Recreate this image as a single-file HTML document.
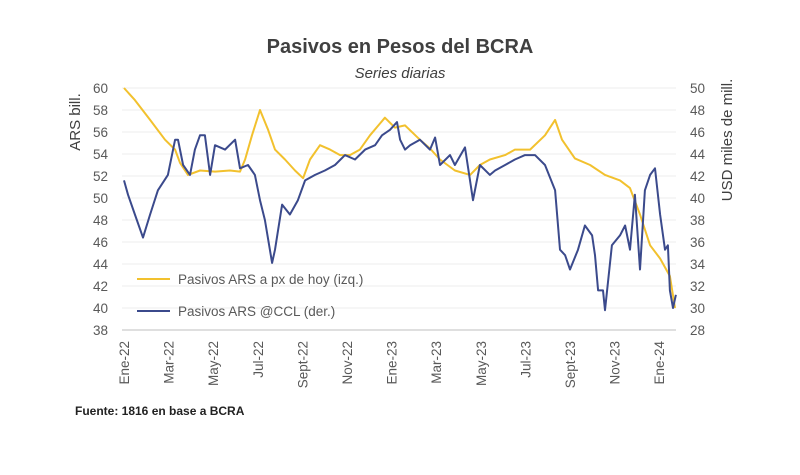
<!DOCTYPE html>
<html><head><meta charset="utf-8"><style>
body{margin:0;background:#fff;}
svg{display:block;font-family:"Liberation Sans",sans-serif;}
</style></head><body>
<svg width="800" height="475" viewBox="0 0 800 475">
<text x="400" y="53" text-anchor="middle" font-size="20" font-weight="bold" fill="#404040">Pasivos en Pesos del BCRA</text>
<text x="400" y="78" text-anchor="middle" font-size="15" font-style="italic" fill="#404040">Series diarias</text>
<text transform="translate(80,122) rotate(-90)" text-anchor="middle" font-size="15" fill="#404040">ARS bill.</text>
<text transform="translate(732,140) rotate(-90)" text-anchor="middle" font-size="15" fill="#404040">USD miles de mill.</text>
<g id="grid"></g><g id="lt"></g><g id="rt"></g><g id="xt"></g>
<g id="series"></g>
<g>
<line x1="137" y1="279" x2="170" y2="279" stroke="#F2C12E" stroke-width="2"/>
<text x="178" y="284" font-size="13.5" fill="#595959">Pasivos ARS a px de hoy (izq.)</text>
<line x1="137" y1="311" x2="170" y2="311" stroke="#3B4A8C" stroke-width="2"/>
<text x="178" y="316" font-size="13.5" fill="#595959">Pasivos ARS @CCL (der.)</text>
</g>
<text x="75" y="415" font-size="12" font-weight="bold" fill="#222">Fuente: 1816 en base a BCRA</text>
</svg>
<script>
const xLabels=["Ene-22","Mar-22","May-22","Jul-22","Sept-22","Nov-22","Ene-23","Mar-23","May-23","Jul-23","Sept-23","Nov-23","Ene-24"];
const leftTicks=[38,40,42,44,46,48,50,52,54,56,58,60];
const rightTicks=[28,30,32,34,36,38,40,42,44,46,48,50];
// time in months since Jan-2022
const arsT=[0,0.49,1.17,1.84,2.29,2.51,2.87,3.41,4.08,4.75,5.2,5.43,5.74,6.1,6.46,6.77,7.22,7.67,8.03,8.34,8.79,9.24,9.69,10.13,10.58,11.03,11.7,12.15,12.6,13.27,13.72,14.17,14.84,15.52,15.96,16.41,17.09,17.53,18.21,18.88,19.33,19.64,20.22,20.9,21.57,22.24,22.69,23.14,23.59,24.04,24.48,24.71];
const arsV=[60,58.9,57.1,55.3,54.4,53.2,52.1,52.5,52.4,52.5,52.4,53.5,55.7,58,56.2,54.4,53.5,52.5,51.8,53.5,54.8,54.4,53.9,53.9,54.4,55.7,57.3,56.4,56.6,55.3,54.5,53.5,52.5,52.1,53,53.5,53.9,54.4,54.4,55.7,57.1,55.3,53.6,53,52.1,51.6,50.9,48.5,45.7,44.5,42.9,40];
const cclT=[0,0.18,0.49,0.85,1.17,1.52,1.97,2.29,2.42,2.65,2.96,3.18,3.41,3.63,3.86,4.08,4.53,4.98,5.2,5.56,5.87,6.1,6.32,6.64,6.77,7.09,7.44,7.8,8.12,8.57,9.01,9.46,9.91,10.36,10.81,11.26,11.57,11.93,12.24,12.38,12.6,12.83,13.27,13.72,13.95,14.17,14.62,14.84,15.29,15.65,15.96,16.41,16.64,17.09,17.53,17.98,18.43,18.88,19.33,19.55,19.78,20,20.36,20.67,20.99,21.12,21.26,21.48,21.57,21.88,22.24,22.47,22.69,22.91,23.14,23.36,23.59,23.81,24.04,24.26,24.39,24.48,24.62,24.75];
const cclV=[41.6,40.3,38.5,36.4,38.5,40.7,42.1,45.3,45.3,43,42.1,44.4,45.7,45.7,42.1,44.8,44.4,45.3,42.7,43,42.1,39.8,38,34.1,35.3,39.4,38.5,39.8,41.6,42.1,42.5,43,43.9,43.5,44.4,44.8,45.7,46.2,46.9,45.3,44.4,44.8,45.3,44.4,45.5,43,43.9,43,44.6,39.8,43,42.1,42.5,43,43.5,43.9,43.9,43,40.7,35.3,34.8,33.5,35.3,37.5,36.6,34.8,31.6,31.6,29.8,35.7,36.6,37.5,35.3,40.3,33.5,40.7,42.1,42.7,38.5,35.3,35.7,31.6,30,31.2];
const NS="http://www.w3.org/2000/svg";
const X0=122,X1=676,Y0=88,Y1=330;
const xs=m=>124+m*22.3;
const yl=v=>Y0+(60-v)*11;
const yr=v=>Y0+(50-v)*11;
function mk(t,a,p){const e=document.createElementNS(NS,t);for(const k in a)e.setAttribute(k,a[k]);p.appendChild(e);return e;}
const grid=document.getElementById('grid'),lt=document.getElementById('lt'),rt=document.getElementById('rt'),xt=document.getElementById('xt'),ser=document.getElementById('series');
leftTicks.forEach((v,i)=>{
  const y=yl(v);
  const g=mk('line',{x1:X0,x2:X1,y1:y,y2:y,stroke:v===38?'#bfbfbf':'#ececec','stroke-width':1},grid);
  
  
  const t=mk('text',{x:108,y:y+5,'text-anchor':'end','font-size':13.5,fill:'#595959'},lt);t.textContent=v;
  
  
});
rightTicks.forEach(v=>{
  const t=mk('text',{x:690,y:yr(v)+5,'font-size':13.5,fill:'#595959'},rt);t.textContent=v;
  
  
});
xLabels.forEach((l,i)=>{
  const x=xs(i*2);
  const t=mk('text',{transform:`translate(${x+5},341) rotate(-90)`,'text-anchor':'end','font-size':13.5,fill:'#595959'},xt);t.textContent=l;
  
  
});
function line(T,V,f,c,name){
  const d=T.map((t,i)=>(i?'L':'M')+xs(t).toFixed(1)+','+f(V[i]).toFixed(1)).join('');
  const p=mk('path',{d:d,fill:'none',stroke:c,'stroke-width':2,'stroke-linejoin':'round'},ser);
  
  
}
line(arsT,arsV,yl,'#F2C12E','series-ars-line');
line(cclT,cclV,yr,'#3B4A8C','series-ccl-line');
</script>
</body></html>
